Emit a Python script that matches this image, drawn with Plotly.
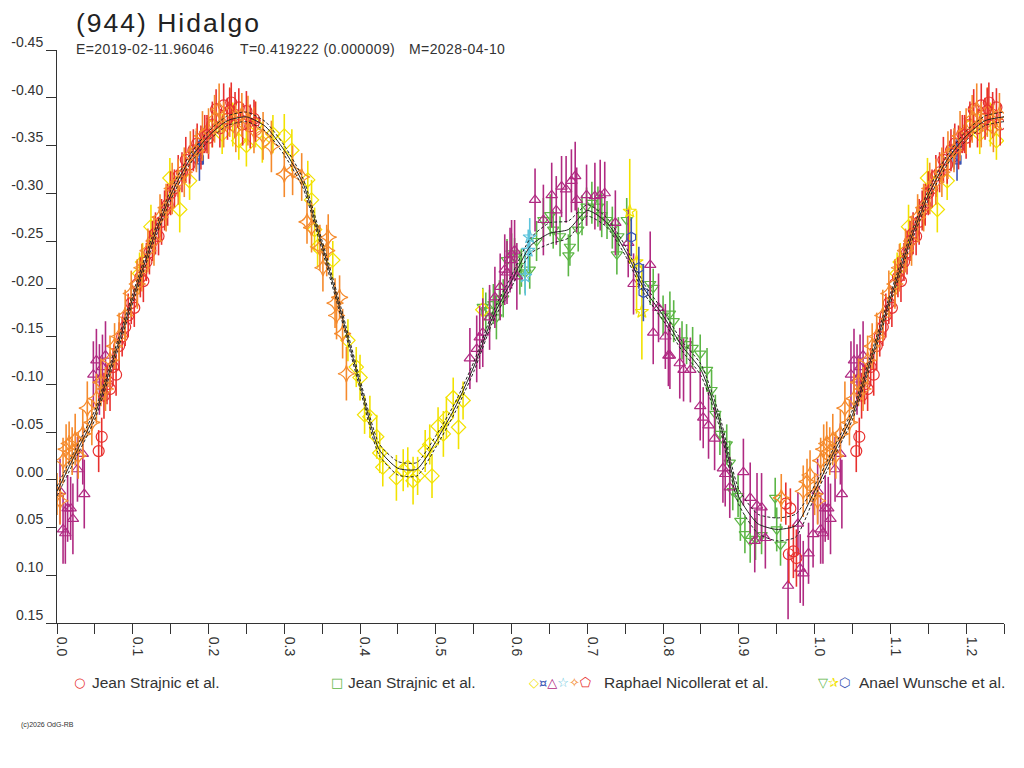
import plotly.graph_objects as go

# ---- light curve data: (944) Hidalgo, phase vs relative magnitude ----

# fitted curve (solid) and its uncertainty envelope (dashed)
fit_phase = [0.000, 0.025, 0.050, 0.075, 0.100, 0.125, 0.150, 0.175, 0.200, 0.225,
             0.250, 0.275, 0.300, 0.325, 0.350, 0.375, 0.400, 0.425, 0.450, 0.475,
             0.500, 0.525, 0.550, 0.575, 0.600, 0.625, 0.650, 0.675, 0.700, 0.725,
             0.750, 0.775, 0.800, 0.825, 0.850, 0.875, 0.900, 0.925, 0.950, 0.975,
             1.000]
fit_mag = [0.012, -0.028, -0.068, -0.128, -0.190, -0.248, -0.298, -0.335, -0.360, -0.376,
           -0.380, -0.370, -0.345, -0.310, -0.245, -0.175, -0.100, -0.032, -0.012, -0.011,
           -0.040, -0.075, -0.118, -0.170, -0.208, -0.245, -0.258, -0.262, -0.282, -0.270,
           -0.240, -0.200, -0.172, -0.140, -0.115, -0.060, 0.018, 0.046, 0.052, 0.048,
           0.012]
fit_hi = [0.007, -0.033, -0.073, -0.133, -0.195, -0.253, -0.303, -0.340, -0.365, -0.381,
          -0.385, -0.375, -0.350, -0.315, -0.250, -0.180, -0.105, -0.038, -0.019, -0.018,
          -0.046, -0.080, -0.123, -0.175, -0.214, -0.253, -0.269, -0.271, -0.288, -0.275,
          -0.245, -0.205, -0.177, -0.145, -0.121, -0.066, 0.010, 0.036, 0.040, 0.036,
          0.006]
fit_lo = [0.017, -0.023, -0.063, -0.123, -0.185, -0.243, -0.293, -0.330, -0.355, -0.371,
          -0.375, -0.365, -0.340, -0.305, -0.240, -0.170, -0.095, -0.026, -0.005, -0.004,
          -0.034, -0.070, -0.113, -0.165, -0.202, -0.237, -0.247, -0.253, -0.276, -0.265,
          -0.235, -0.195, -0.167, -0.135, -0.109, -0.054, 0.026, 0.056, 0.064, 0.060,
          0.018]

# Jean Strajnic et al. - red circles
red_ph = [0.055, 0.059, 0.062, 0.066, 0.070, 0.074, 0.078, 0.082, 0.086, 0.090,
          0.094, 0.098, 0.102, 0.106, 0.110, 0.114, 0.118, 0.122, 0.126, 0.130,
          0.134, 0.138, 0.142, 0.146, 0.150, 0.155, 0.160, 0.165, 0.170, 0.175,
          0.180, 0.185, 0.190, 0.195, 0.200, 0.205, 0.210, 0.215, 0.220, 0.225,
          0.230, 0.235, 0.240, 0.245, 0.250, 0.255, 0.260, 0.962, 0.966, 0.968,
          0.972, 0.976]
red_mag = [-0.030, -0.045, -0.088, -0.100, -0.095, -0.118, -0.110, -0.140, -0.150, -0.160,
           -0.172, -0.185, -0.180, -0.205, -0.212, -0.208, -0.228, -0.238, -0.250, -0.258,
           -0.255, -0.270, -0.282, -0.288, -0.300, -0.305, -0.318, -0.322, -0.335, -0.330,
           -0.345, -0.352, -0.348, -0.362, -0.358, -0.372, -0.388, -0.368, -0.392, -0.378,
           -0.395, -0.382, -0.390, -0.372, -0.386, -0.370, -0.378, 0.025, 0.078, 0.030,
           0.075, 0.082]
red_err = [0.022, 0.020, 0.024, 0.021, 0.023, 0.020, 0.022, 0.025, 0.021, 0.020,
           0.023, 0.022, 0.020, 0.024, 0.021, 0.022, 0.020, 0.023, 0.021, 0.022,
           0.020, 0.024, 0.021, 0.022, 0.023, 0.020, 0.022, 0.021, 0.024, 0.020,
           0.022, 0.021, 0.023, 0.020, 0.022, 0.024, 0.021, 0.020, 0.023, 0.022,
           0.021, 0.024, 0.020, 0.022, 0.021, 0.023, 0.020, 0.022, 0.030, 0.021,
           0.028, 0.030]

# Jean Strajnic et al. (second session) - green squares
gsq_ph = [0.566, 0.584, 0.613]
gsq_mag = [-0.176, -0.188, -0.222]
gsq_err = [0.020, 0.021, 0.020]

# Raphael Nicollerat et al. - yellow diamonds
yel_ph = [0.109, 0.113, 0.124, 0.149, 0.162, 0.175, 0.205, 0.218, 0.232, 0.240,
          0.250, 0.262, 0.271, 0.285, 0.300, 0.310, 0.331, 0.336, 0.340, 0.344,
          0.364, 0.384, 0.395, 0.400, 0.406, 0.413, 0.422, 0.426, 0.430, 0.448,
          0.457, 0.463, 0.470, 0.476, 0.486, 0.492, 0.495, 0.503, 0.510, 0.514,
          0.523, 0.530, 0.536, 0.562]
yel_mag = [-0.216, -0.228, -0.265, -0.316, -0.283, -0.313, -0.370, -0.362, -0.372, -0.355,
           -0.350, -0.372, -0.353, -0.362, -0.360, -0.345, -0.314, -0.293, -0.262, -0.244,
           -0.230, -0.146, -0.118, -0.107, -0.068, -0.066, -0.045, -0.028, -0.013, -0.002,
           -0.010, -0.013, 0.001, -0.004, -0.030, -0.037, -0.004, -0.056, -0.048, -0.065,
           -0.086, -0.055, -0.083, -0.178]
yel_err = [0.022, 0.020, 0.023, 0.021, 0.024, 0.020, 0.022, 0.021, 0.023, 0.020,
           0.022, 0.024, 0.021, 0.020, 0.023, 0.022, 0.020, 0.021, 0.023, 0.022,
           0.020, 0.022, 0.021, 0.024, 0.020, 0.022, 0.023, 0.021, 0.020, 0.024,
           0.022, 0.021, 0.025, 0.020, 0.022, 0.021, 0.023, 0.020, 0.024, 0.022,
           0.021, 0.023, 0.020, 0.022]

# Raphael Nicollerat et al. - blue crossed squares
bxs_ph = [0.184, 0.188, 0.192]
bxs_mag = [-0.345, -0.335, -0.350]
bxs_err = [0.020, 0.022, 0.020]

# Raphael Nicollerat et al. - purple triangles
pur_ph = [0.004, 0.008, 0.011, 0.014, 0.018, 0.021, 0.027, 0.034, 0.036, 0.048,
          0.052, 0.056, 0.060, 0.064, 0.545, 0.554, 0.558, 0.562, 0.571, 0.578,
          0.585, 0.591, 0.594, 0.598, 0.600, 0.604, 0.607, 0.631, 0.642, 0.653,
          0.659, 0.666, 0.672, 0.679, 0.684, 0.686, 0.699, 0.710, 0.717, 0.723,
          0.737, 0.754, 0.761, 0.783, 0.787, 0.794, 0.803, 0.807, 0.809, 0.822,
          0.827, 0.836, 0.849, 0.853, 0.860, 0.868, 0.879, 0.882, 0.888, 0.906,
          0.915, 0.921, 0.924, 0.930, 0.935, 0.965, 0.978, 0.981, 0.985, 0.992,
          0.998]
pur_mag = [0.012, 0.052, 0.056, 0.030, 0.030, 0.041, -0.011, -0.027, 0.015, -0.110,
           -0.125, -0.105, -0.118, -0.130, -0.127, -0.137, -0.149, -0.154, -0.170, -0.191,
           -0.202, -0.220, -0.217, -0.230, -0.236, -0.240, -0.213, -0.293, -0.272, -0.298,
           -0.282, -0.307, -0.304, -0.313, -0.318, -0.293, -0.298, -0.297, -0.298, -0.300,
           -0.269, -0.248, -0.205, -0.225, -0.154, -0.180, -0.150, -0.130, -0.130, -0.122,
           -0.115, -0.115, -0.077, -0.065, -0.057, -0.043, -0.012, -0.006, 0.008, -0.008,
           0.019, 0.064, 0.027, 0.029, 0.061, 0.111, 0.046, 0.093, 0.098, 0.077,
           0.057]
pur_err = [0.034, 0.036, 0.032, 0.035, 0.033, 0.037, 0.034, 0.032, 0.036, 0.035,
           0.033, 0.037, 0.034, 0.036, 0.032, 0.035, 0.033, 0.036, 0.034, 0.032,
           0.035, 0.037, 0.033, 0.034, 0.036, 0.032, 0.035, 0.033, 0.037, 0.034,
           0.036, 0.032, 0.035, 0.033, 0.036, 0.034, 0.032, 0.035, 0.037, 0.033,
           0.034, 0.036, 0.032, 0.035, 0.033, 0.036, 0.034, 0.032, 0.035, 0.037,
           0.033, 0.034, 0.036, 0.032, 0.035, 0.033, 0.036, 0.034, 0.032, 0.035,
           0.037, 0.033, 0.034, 0.036, 0.032, 0.035, 0.033, 0.036, 0.034, 0.032,
           0.035]

# Raphael Nicollerat et al. - cyan stars
cyn_ph = [0.618, 0.622, 0.624]
cyn_mag = [-0.213, -0.240, -0.254]
cyn_err = [0.020, 0.022, 0.020]

# Raphael Nicollerat et al. - orange four-point stars
org_ph = [0.000, 0.004, 0.008, 0.012, 0.016, 0.020, 0.024, 0.028, 0.034, 0.040,
          0.046, 0.052, 0.058, 0.064, 0.070, 0.076, 0.082, 0.090, 0.098, 0.106,
          0.112, 0.120, 0.128, 0.136, 0.144, 0.152, 0.160, 0.168, 0.176, 0.184,
          0.192, 0.200, 0.208, 0.214, 0.220, 0.228, 0.236, 0.244, 0.252, 0.260,
          0.272, 0.283, 0.300, 0.311, 0.323, 0.330, 0.336, 0.347, 0.351, 0.356,
          0.358, 0.367, 0.369, 0.373, 0.377, 0.382, 0.956, 0.985, 0.990, 0.994]
org_mag = [0.015, 0.022, -0.020, -0.032, -0.038, -0.030, -0.042, -0.025, -0.048, -0.075,
           -0.060, -0.085, -0.102, -0.095, -0.125, -0.140, -0.150, -0.172, -0.195, -0.205,
           -0.222, -0.240, -0.250, -0.275, -0.285, -0.305, -0.312, -0.322, -0.340, -0.345,
           -0.360, -0.365, -0.378, -0.388, -0.372, -0.385, -0.368, -0.382, -0.376, -0.366,
           -0.360, -0.349, -0.320, -0.324, -0.317, -0.270, -0.264, -0.243, -0.222, -0.240,
           -0.254, -0.185, -0.172, -0.191, -0.153, -0.111, 0.019, 0.012, 0.002, -0.005]
org_err = [0.022, 0.025, 0.024, 0.026, 0.023, 0.025, 0.027, 0.024, 0.025, 0.028,
           0.024, 0.026, 0.025, 0.023, 0.026, 0.024, 0.025, 0.027, 0.024, 0.026,
           0.025, 0.023, 0.026, 0.024, 0.025, 0.027, 0.024, 0.026, 0.025, 0.023,
           0.026, 0.024, 0.025, 0.027, 0.024, 0.026, 0.025, 0.023, 0.026, 0.024,
           0.025, 0.027, 0.024, 0.026, 0.025, 0.023, 0.026, 0.024, 0.025, 0.027,
           0.024, 0.026, 0.025, 0.023, 0.026, 0.028, 0.025, 0.027, 0.024, 0.026]

# Raphael Nicollerat et al. - red pentagons
rpt_ph = [0.198, 0.228, 0.262]
rpt_mag = [-0.362, -0.388, -0.375]
rpt_err = [0.020, 0.022, 0.021]

# Anael Wunsche et al. - green down triangles
grn_ph = [0.562, 0.571, 0.576, 0.580, 0.589, 0.594, 0.600, 0.604, 0.611, 0.618,
          0.624, 0.633, 0.642, 0.651, 0.655, 0.664, 0.675, 0.677, 0.688, 0.693,
          0.699, 0.706, 0.714, 0.719, 0.726, 0.733, 0.739, 0.741, 0.752, 0.783,
          0.787, 0.800, 0.809, 0.814, 0.825, 0.831, 0.839, 0.849, 0.858, 0.864,
          0.869, 0.875, 0.884, 0.888, 0.892, 0.899, 0.902, 0.908, 0.915, 0.922,
          0.930, 0.948, 0.950, 0.955]
grn_mag = [-0.181, -0.177, -0.184, -0.170, -0.190, -0.230, -0.237, -0.233, -0.217, -0.217,
           -0.220, -0.250, -0.272, -0.277, -0.262, -0.255, -0.235, -0.244, -0.262, -0.277,
           -0.286, -0.290, -0.286, -0.277, -0.272, -0.264, -0.236, -0.255, -0.272, -0.205,
           -0.201, -0.172, -0.174, -0.166, -0.146, -0.142, -0.138, -0.132, -0.115, -0.094,
           -0.069, -0.048, -0.037, -0.018, 0.012, 0.017, 0.043, 0.057, 0.064, 0.062,
           0.058, 0.019, 0.052, 0.068]
grn_err = [0.020, 0.022, 0.021, 0.023, 0.020, 0.022, 0.021, 0.020, 0.023, 0.022,
           0.020, 0.021, 0.023, 0.022, 0.020, 0.021, 0.022, 0.020, 0.023, 0.021,
           0.020, 0.022, 0.021, 0.023, 0.020, 0.022, 0.021, 0.020, 0.023, 0.022,
           0.020, 0.021, 0.023, 0.022, 0.020, 0.021, 0.022, 0.020, 0.023, 0.021,
           0.020, 0.022, 0.021, 0.023, 0.020, 0.022, 0.021, 0.020, 0.023, 0.022,
           0.020, 0.021, 0.023, 0.022]

# Anael Wunsche et al. - yellow stars
ays_ph = [0.756, 0.765, 0.772]
ays_mag = [-0.281, -0.228, -0.176]
ays_err = [0.055, 0.054, 0.050]

# Anael Wunsche et al. - blue hexagons
abh_ph = [0.758, 0.768, 0.774]
abh_mag = [-0.254, -0.222, -0.196]
abh_err = [0.020, 0.022, 0.030]

x_tick_vals = [0.00, 0.05, 0.10, 0.15, 0.20, 0.25, 0.30, 0.35, 0.40, 0.45, 0.50, 0.55, 0.60,
               0.65, 0.70, 0.75, 0.80, 0.85, 0.90, 0.95, 1.00, 1.05, 1.10, 1.15, 1.20, 1.25]
x_tick_text = ["0.0", "", "0.1", "", "0.2", "", "0.3", "", "0.4", "", "0.5", "", "0.6",
               "", "0.7", "", "0.8", "", "0.9", "", "1.0", "", "1.1", "", "1.2", ""]
y_tick_vals = [-0.45, -0.40, -0.35, -0.30, -0.25, -0.20, -0.15, -0.10, -0.05,
               0.00, 0.05, 0.10, 0.15]
y_tick_text = ["-0.45", "-0.40", "-0.35", "-0.30", "-0.25", "-0.20", "-0.15", "-0.10",
               "-0.05", "0.00", "0.05", "0.10", "0.15"]

RED = "#e8302e"
ORANGE = "#f58a2c"
YELLOW = "#f2e200"
PURPLE = "#b02a82"
GREEN = "#5cb646"
CYAN = "#5ec4dc"
BLUE = "#3a55b4"
INK = "#333333"

# the page body has an 8px margin, so the figure is drawn 8px smaller
# and every pixel position below is given in window coordinates
OFF = 8
W, H = 1024 - OFF, 768 - OFF
M_L, M_T = 57 - OFF, 50 - OFF
M_R, M_B = W - (1004 - OFF), H - (623 - OFF)


def px(x):
    return (x - OFF - M_L) / (W - M_L - M_R)


def py(y):
    return (H - M_B - (y - OFF)) / (H - M_T - M_B)


def wrap(ph, *cols, include_zero=True):
    # the chart shows a quarter of a second cycle after phase 1.0
    keep = [i for i, p in enumerate(ph) if p < 0.25 or (p == 0.25 and not include_zero)]
    if not include_zero:
        keep = [i for i in keep if ph[i] > 0]
    out = [list(ph) + [ph[i] + 1 for i in keep]]
    for c in cols:
        out.append(list(c) + [c[i] for i in keep])
    return out


fig = go.Figure()


def add_series(ph, mag, err, symbol, color, size=10):
    x, y, e = wrap(ph, mag, err)
    fig.add_trace(go.Scatter(
        x=x, y=y, mode="markers",
        marker=dict(symbol=symbol, size=size, color=color,
                    line=dict(width=1.2, color=color)),
        error_y=dict(type="data", array=e, visible=True, thickness=1.6,
                     width=0, color=color),
        showlegend=False, hoverinfo="skip"))


add_series(gsq_ph, gsq_mag, gsq_err, "square-open", GREEN, 8)
add_series(grn_ph, grn_mag, grn_err, "triangle-down-open", GREEN, 10)
add_series(yel_ph, yel_mag, yel_err, "diamond-open", YELLOW, 11)
add_series(cyn_ph, cyn_mag, cyn_err, "star-open", CYAN, 10)
add_series(bxs_ph, bxs_mag, bxs_err, "square-x-open", BLUE, 8)
add_series(pur_ph, pur_mag, pur_err, "triangle-up-open", PURPLE, 10)
add_series(ays_ph, ays_mag, ays_err, "star-open", YELLOW, 10)
add_series(abh_ph, abh_mag, abh_err, "hexagon-open", BLUE, 10)
add_series(red_ph, red_mag, red_err, "circle-open", RED, 11)
add_series(org_ph, org_mag, org_err, "star-diamond-open", ORANGE, 12)
add_series(rpt_ph, rpt_mag, rpt_err, "pentagon-open", RED, 10)

# fit and envelope on top
for vals, dash in ((fit_hi, "3px,2px"), (fit_lo, "3px,2px"), (fit_mag, "solid")):
    cx, cy = wrap(fit_phase, vals, include_zero=False)
    fig.add_trace(go.Scatter(
        x=cx, y=cy, mode="lines",
        line=dict(color="#222222", width=1, dash=dash, shape="spline", smoothing=0.6),
        showlegend=False, hoverinfo="skip"))


def spaced(text, gap):
    return "<span style='letter-spacing:%.1fpx'>%s</span>" % (gap, text)


def keys(*pairs):
    return "".join("<span style='color:%s'>%s</span>" % (c, g) for g, c in pairs)


annotations = [
    dict(x=px(74), y=py(23), text=spaced("(944) Hidalgo", 2.0),
         font=dict(size=26.5, color="#222222")),
    dict(x=px(74), y=py(49), text=spaced("E=2019-02-11.96046", 0.4), font=dict(size=14)),
    dict(x=px(238), y=py(49), text=spaced("T=0.419222 (0.000009)", 0.4), font=dict(size=14)),
    dict(x=px(407), y=py(49), text=spaced("M=2028-04-10", 0.4), font=dict(size=14)),
    dict(x=px(19), y=py(725), text="(c)2026 OdG-RB", font=dict(size=7)),
]

legend_names = [("Jean Strajnic et al.", 90), ("Jean Strajnic et al.", 346),
                ("Raphael Nicollerat et al.", 602), ("Anael Wunsche et al.", 857)]
legend_keys = [
    (keys(("\u25cb", RED)), 72),
    (keys(("\u25a1", GREEN)), 329),
    (keys(("\u25c7", YELLOW), ("\u00a4", BLUE), ("\u25b3", PURPLE),
          ("\u2606", CYAN), ("\u2727", ORANGE), ("\u2b20", RED)), 527),
    (keys(("\u25bd", GREEN), ("\u2730", YELLOW), ("\u2b21", BLUE)), 816),
]

for name, x0 in legend_names:
    annotations.append(dict(x=px(x0), y=py(683), text=name, font=dict(size=15.5)))
for text, x0 in legend_keys:
    annotations.append(dict(x=px(x0), y=py(683), text=text,
                            font=dict(size=13, family="DejaVu Sans")))

for a in annotations:
    a.setdefault("xanchor", "left")
    a.update(xref="paper", yref="paper", yanchor="middle", showarrow=False)

fig.update_layout(
    width=W, height=H,
    margin=dict(l=M_L, r=M_R, t=M_T, b=M_B, autoexpand=False),
    paper_bgcolor="white", plot_bgcolor="white",
    font=dict(family="Liberation Sans", size=14, color=INK),
    annotations=annotations,
)
fig.update_xaxes(
    range=[0, 1.25], showgrid=False, zeroline=False, automargin=False,
    showline=True, linecolor=INK, linewidth=1,
    tickmode="array", tickvals=x_tick_vals, ticktext=x_tick_text,
    ticks="outside", ticklen=10, tickcolor=INK, tickangle=90, ticklabelshift=5,
    tickfont=dict(size=14, color=INK),
)
fig.update_yaxes(
    range=[0.15, -0.45], showgrid=False, zeroline=False, automargin=False,
    showline=True, linecolor=INK, linewidth=1,
    tickmode="array", tickvals=y_tick_vals, ticktext=y_tick_text,
    ticks="outside", ticklen=10, tickcolor=INK, ticklabelshift=8,
    tickfont=dict(size=14, color=INK),
)

fig.write_html("out.html")
